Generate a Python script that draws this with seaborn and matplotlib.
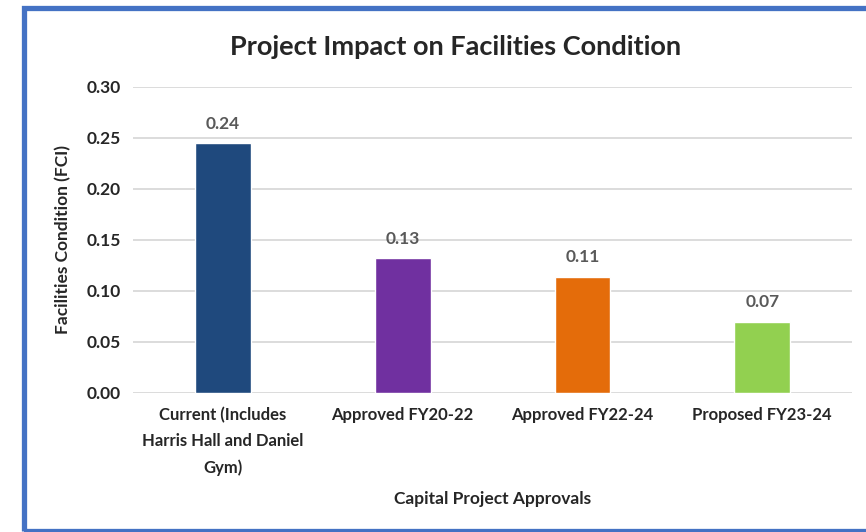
import numpy as np
import pandas as pd
import matplotlib
matplotlib.use('Agg')
import matplotlib.pyplot as plt
from matplotlib.patches import Rectangle
import seaborn as sns

sns.set_style('white')
plt.rcParams['font.family'] = ['Lato', 'DejaVu Sans']

# Data
categories = ['Current (Includes\nHarris Hall and Daniel\nGym)', 'Approved FY20-22',
              'Approved FY22-24', 'Proposed FY23-24']
fci_values = [0.245, 0.132, 0.114, 0.070]
value_labels = ['0.24', '0.13', '0.11', '0.07']
bar_colors = ['#1F497D', '#7030A0', '#E46C0A', '#92D050']

df = pd.DataFrame({'approval': categories, 'fci': fci_values})

fig = plt.figure(figsize=(8.66, 5.32), dpi=100)
ax = fig.add_axes([0.1536, 0.2613, 0.8304, 0.5752])

sns.barplot(data=df, x='approval', y='fci', hue='approval', palette=bar_colors,
            width=0.31, legend=False, ax=ax, saturation=1)

ax.set_ylim(0, 0.30)
ax.set_yticks(np.arange(0, 0.301, 0.05))
ax.set_yticklabels([f'{v:.2f}' for v in np.arange(0, 0.301, 0.05)],
                   fontsize=12.5, fontweight='bold')
ax.set_xlim(-0.5, 3.5)
ax.tick_params(axis='both', length=0)
ax.tick_params(axis='y', pad=9)
ax.tick_params(axis='x', pad=10)
for lbl in ax.get_xticklabels():
    lbl.set_fontsize(12)
    lbl.set_fontweight('bold')
    lbl.set_linespacing(1.75)
    lbl.set_verticalalignment('top')

ax.yaxis.grid(True, color='#D9D9D9', linewidth=1.3)
ax.set_axisbelow(True)
for s in ax.spines.values():
    s.set_visible(False)

for patch, txt in zip(ax.patches, value_labels):
    ax.text(patch.get_x() + patch.get_width() / 2, patch.get_height() + 0.011, txt,
            ha='center', va='bottom', fontsize=12.5, fontweight='bold', color='#595959')

ax.set_xlabel('Capital Project Approvals', fontsize=12.5, fontweight='bold', labelpad=11)
ax.set_ylabel('Facilities Condition (FCI)', fontsize=12.5, fontweight='bold', labelpad=11)

fig.text(0.526, 0.912, 'Project Impact on Facilities Condition', ha='center', va='center',
         fontsize=19.5, fontweight='bold')

# blue frame around the chart area
fig.patches.append(Rectangle((24 / 866, 1 / 532), 1.0, 523 / 532, transform=fig.transFigure,
                             fill=False, edgecolor='#4472C4', linewidth=3.8))

plt.savefig('out.png', dpi=100)
plt.close()
